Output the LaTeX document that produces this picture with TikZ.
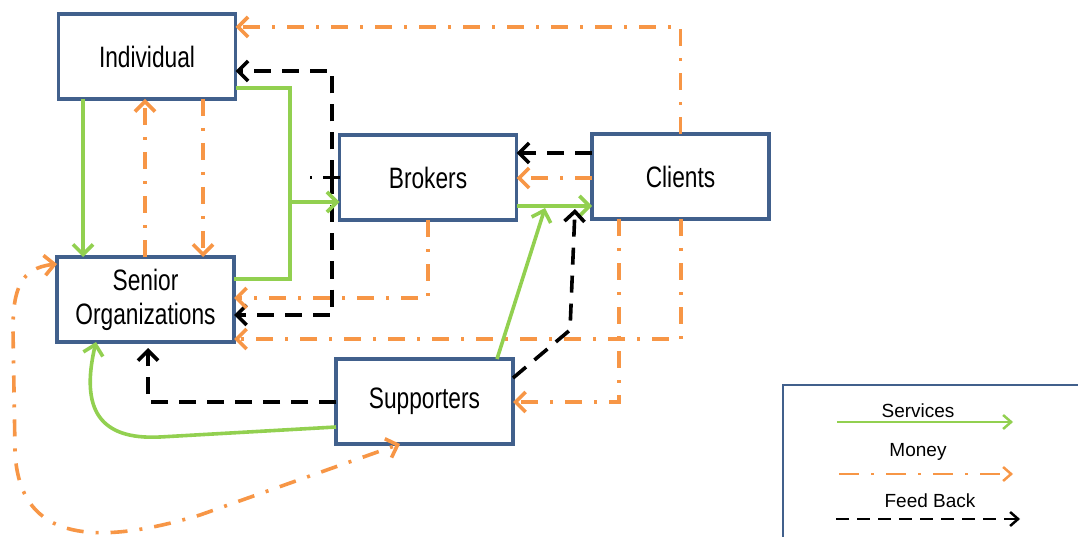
\documentclass[tikz,border=0pt]{standalone}
\usepackage{fontspec}
\setmainfont{Liberation Sans}
\newfontfamily\narrowfont[FakeStretch=0.77]{Liberation Sans}
\usetikzlibrary{arrows.meta}
\definecolor{boxblue}{RGB}{65,96,140}
\definecolor{svcgreen}{RGB}{146,208,80}
\definecolor{monorange}{RGB}{247,150,70}
\begin{document}
\begin{tikzpicture}[x=1pt,y=-1pt,
  entity/.style={draw=boxblue,line width=3.6pt,fill=white,minimum width=177pt,minimum height=85pt,
    inner sep=0pt,outer sep=0pt,font=\narrowfont\fontsize{29.5}{34}\selectfont,align=center},
  barbtip/.style={-{Straight Barb[length=10pt,width=20pt]}},
  svc/.style={draw=svcgreen,line width=3.6pt,barbtip},
  money/.style={draw=monorange,line width=3.6pt,dash pattern=on 17pt off 12pt on 3pt off 12pt,barbtip},
  fb/.style={draw=black,line width=3.6pt,dash pattern=on 17pt off 11pt,barbtip},
  legtext/.style={font=\fontsize{19}{21}\selectfont,inner sep=0pt},
  legtip/.style={-{Straight Barb[length=8pt,width=14pt]}}
]
\useasboundingbox (0,0) rectangle (1078,537);

% entities
\node[entity] (ind) at (147,56.5) {Individual};
\node[entity] (bro) at (428,177.5) {Brokers};
\node[entity] (cli) at (680.5,176.5) {Clients};
\node[entity] (sen) at (145.5,299.5) {Senior\\Organizations};
\node[entity] (sup) at (424.5,401.5) {Supporters};

\coordinate (sj) at (290,202);
\coordinate (cj) at (545,208);
\coordinate (fj) at (575,209);

% Clients -> Individual (money)
\draw[money] (cli.north) |- (ind.east |- 0,27);
% Clients -> Brokers
\draw[fb] (cli.west |- 0,153) -- (bro.east |- 0,153);
\draw[money] (cli.west |- 0,178) -- (bro.east |- 0,178);
% Brokers -> Clients (services)
\draw[svc] (bro.east |- 0,206) -- (cli.west |- 0,206);

% Brokers feedback to Individual and Senior
\draw[fb,-] (bro.west) -- ++(-30,0);
\draw[fb] (bro.west -| 332,0) |- (ind.east |- 0,71);
\draw[fb] (bro.west -| 332,0) |- (sen.east |- 0,315);

% Services to Brokers
\draw[svc] (ind.east |- 0,88) -| (sj) -- (bro.west |- sj);
\draw[svc,-] (sen.east |- 0,279) -| (sj);

% Individual <-> Senior
\draw[svc] (ind.south -| 83,0) -- (sen.north -| 83,0);
\draw[money] (sen.north -| 145,0) -- (ind.south -| 145,0);
\draw[money] (ind.south -| 203,0) -- (sen.north -| 203,0);

% Brokers -> Senior (money)
\draw[money] (bro.south) |- (sen.east |- 0,298);
% Clients -> Senior (money)
\draw[money] (cli.south -| 681,0) |- (sen.east |- 0,339);
% Clients -> Supporters (money)
\draw[money] (cli.south -| 619,0) |- (sup.east |- 0,402);

% Supporters -> Clients
\draw[svc] (sup.north -| 497,0) -- (cj);
\draw[fb] (sup.east |- 0,378) -- (570,330) -- (fj);

% Supporters -> Senior
\draw[fb,shorten >=6pt] (sup.west |- 0,402) -| (sen.south -| 148,0);
\draw[svc] (sup.west |- 0,427) -- (160,437) .. controls (100,440) and (80,410) .. (sen.south -| 96,0);

% Senior <-> Supporters (money loop)
\draw[money,{Straight Barb[length=10pt,width=20pt]}-{Straight Barb[length=10pt,width=20pt]}]
  (sen.west |- 0,264) .. controls (20,268) and (13,290) .. (13,330) -- (15,450)
  .. controls (18,545) and (100,545) .. (200,515) -- (sup.south -| 400,0);

% legend
\draw[boxblue,line width=2.5pt] (1082,385) -- (783,385) -- (783,541);
\node[legtext] (l1) at (918,411) {Services};
\node[legtext] (l2) at (918,452) {Money};
\node[legtext] (l3) at (930,501) {Feed Back};
\draw[svcgreen,line width=2.5pt,legtip] (837,422) -- (1013,422);
\draw[monorange,line width=2.5pt,dash pattern=on 20pt off 12pt on 3pt off 12pt,legtip] (839,474) -- (1013,474);
\draw[black,line width=2.5pt,dash pattern=on 13pt off 8pt,legtip] (836,519) -- (1020,519);
\end{tikzpicture}
\end{document}
